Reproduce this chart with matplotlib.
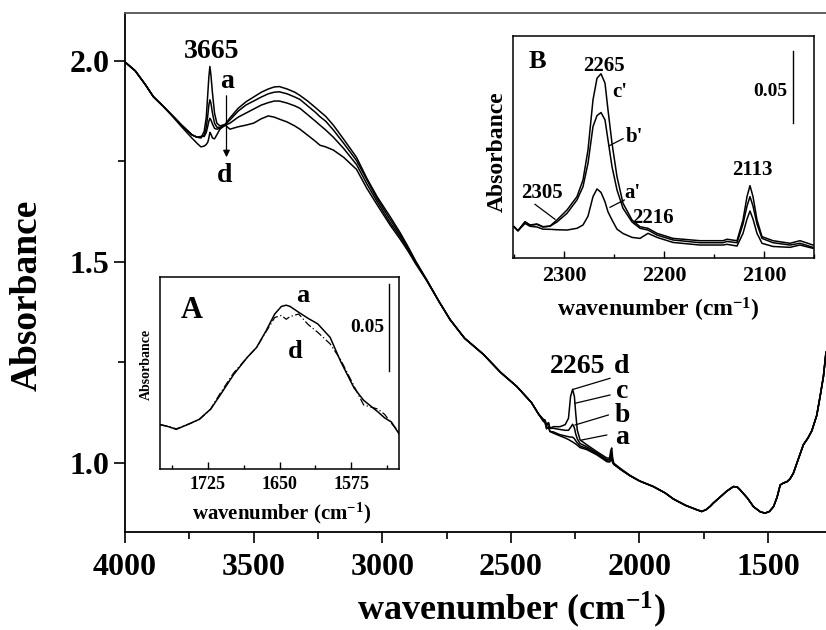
import matplotlib
matplotlib.use('Agg')
import matplotlib.pyplot as plt
from matplotlib.ticker import MultipleLocator, FormatStrFormatter, NullLocator
from matplotlib.lines import Line2D
from matplotlib.patches import FancyArrowPatch

plt.rcParams['font.family'] = ['Liberation Serif', 'DejaVu Serif']
plt.rcParams['font.weight'] = 'bold'
plt.rcParams['mathtext.default'] = 'regular'

# ---------------- main spectrum data (wavenumber, absorbance) ----------------
wn_main = [4000, 3960, 3920, 3890, 3850, 3810, 3780, 3760, 3740, 3720,
           3705, 3692, 3684, 3678, 3674, 3670, 3666, 3660, 3652, 3643,
           3631, 3611, 3592, 3560, 3530, 3500, 3470, 3443, 3420, 3400,
           3370, 3340, 3320, 3290, 3260, 3242, 3220, 3190, 3150, 3100,
           3060, 3020, 2970, 2930, 2900, 2870, 2827, 2780, 2736, 2680,
           2607, 2540, 2477, 2420, 2393, 2374, 2367, 2361, 2354, 2348,
           2335, 2309, 2289, 2276, 2268, 2260, 2253, 2248, 2242, 2231,
           2205, 2166, 2127, 2116, 2112, 2108, 2104, 2100, 2070, 2037,
           2000, 1946, 1900, 1868, 1820, 1780, 1758, 1740, 1725, 1713,
           1690, 1660, 1635, 1620, 1609, 1580, 1557, 1530, 1512, 1495,
           1479, 1465, 1453, 1440, 1427, 1415, 1402, 1385, 1363, 1345,
           1330, 1311, 1298, 1285, 1275]

a_abs = [1.997, 1.975, 1.940, 1.911, 1.886, 1.860, 1.840, 1.828, 1.816, 1.810,
         1.808, 1.825, 1.860, 1.920, 1.960, 1.986, 1.965, 1.920, 1.870, 1.845,
         1.838, 1.842, 1.858, 1.882, 1.898, 1.910, 1.922, 1.930, 1.935, 1.936,
         1.930, 1.922, 1.914, 1.900, 1.884, 1.874, 1.862, 1.840, 1.805, 1.760,
         1.708, 1.662, 1.613, 1.572, 1.538, 1.502, 1.455, 1.402, 1.356, 1.310,
         1.270, 1.225, 1.190, 1.150, 1.122, 1.104, 1.100, 1.085, 1.090, 1.078,
         1.074, 1.067, 1.062, 1.058, 1.055, 1.052, 1.049, 1.047, 1.044, 1.038,
         1.033, 1.020, 1.003, 1.002, 1.006, 1.008, 1.000, 0.996, 0.982, 0.968,
         0.955, 0.941, 0.925, 0.910, 0.894, 0.884, 0.879, 0.884, 0.892, 0.900,
         0.913, 0.930, 0.941, 0.940, 0.933, 0.912, 0.891, 0.878, 0.875, 0.879,
         0.891, 0.915, 0.945, 0.950, 0.953, 0.960, 0.974, 1.005, 1.045, 1.062,
         1.080, 1.118, 1.165, 1.215, 1.275]

b_abs = [1.997, 1.975, 1.940, 1.911, 1.886, 1.860, 1.840, 1.828, 1.816, 1.810,
         1.810, 1.815, 1.835, 1.865, 1.890, 1.903, 1.895, 1.870, 1.845, 1.835,
         1.834, 1.841, 1.853, 1.875, 1.890, 1.900, 1.910, 1.918, 1.922, 1.923,
         1.918, 1.910, 1.904, 1.888, 1.872, 1.861, 1.850, 1.828, 1.795, 1.752,
         1.704, 1.657, 1.606, 1.567, 1.535, 1.500, 1.455, 1.402, 1.356, 1.310,
         1.270, 1.225, 1.190, 1.150, 1.122, 1.104, 1.100, 1.085, 1.090, 1.078,
         1.077, 1.070, 1.067, 1.065, 1.064, 1.064, 1.060, 1.055, 1.050, 1.042,
         1.036, 1.022, 1.005, 1.004, 1.012, 1.016, 1.003, 0.997, 0.982, 0.968,
         0.955, 0.941, 0.925, 0.910, 0.894, 0.884, 0.879, 0.884, 0.892, 0.900,
         0.913, 0.930, 0.941, 0.940, 0.933, 0.912, 0.891, 0.878, 0.875, 0.879,
         0.891, 0.915, 0.945, 0.950, 0.953, 0.960, 0.974, 1.005, 1.045, 1.062,
         1.080, 1.118, 1.165, 1.215, 1.275]

c_abs = [1.997, 1.975, 1.940, 1.911, 1.886, 1.860, 1.840, 1.828, 1.816, 1.810,
         1.812, 1.812, 1.822, 1.838, 1.850, 1.857, 1.853, 1.843, 1.832, 1.830,
         1.832, 1.840, 1.845, 1.860, 1.870, 1.880, 1.890, 1.896, 1.900, 1.900,
         1.895, 1.888, 1.882, 1.866, 1.850, 1.840, 1.828, 1.810, 1.782, 1.742,
         1.694, 1.650, 1.598, 1.562, 1.532, 1.498, 1.454, 1.402, 1.356, 1.310,
         1.270, 1.225, 1.190, 1.150, 1.122, 1.108, 1.106, 1.093, 1.100, 1.086,
         1.086, 1.083, 1.081, 1.081, 1.088, 1.096, 1.087, 1.072, 1.060, 1.048,
         1.040, 1.025, 1.008, 1.008, 1.020, 1.024, 1.006, 0.998, 0.983, 0.968,
         0.955, 0.941, 0.925, 0.910, 0.894, 0.884, 0.879, 0.884, 0.892, 0.900,
         0.913, 0.930, 0.941, 0.940, 0.933, 0.912, 0.891, 0.878, 0.875, 0.879,
         0.891, 0.915, 0.945, 0.950, 0.953, 0.960, 0.974, 1.005, 1.045, 1.062,
         1.080, 1.118, 1.165, 1.215, 1.275]

d_abs = [1.997, 1.975, 1.940, 1.911, 1.886, 1.858, 1.836, 1.822, 1.808, 1.795,
         1.786, 1.788, 1.792, 1.798, 1.808, 1.822, 1.818, 1.808, 1.806, 1.816,
         1.830, 1.840, 1.830, 1.836, 1.840, 1.845, 1.856, 1.863, 1.860, 1.855,
         1.848, 1.838, 1.830, 1.815, 1.800, 1.790, 1.786, 1.778, 1.760, 1.730,
         1.683, 1.642, 1.592, 1.556, 1.527, 1.495, 1.453, 1.402, 1.356, 1.310,
         1.270, 1.225, 1.190, 1.150, 1.122, 1.108, 1.106, 1.093, 1.100, 1.086,
         1.090, 1.090, 1.095, 1.111, 1.165, 1.183, 1.165, 1.124, 1.082, 1.057,
         1.045, 1.028, 1.012, 1.012, 1.030, 1.037, 1.010, 0.999, 0.984, 0.969,
         0.955, 0.941, 0.925, 0.910, 0.894, 0.884, 0.879, 0.884, 0.892, 0.900,
         0.913, 0.930, 0.941, 0.940, 0.933, 0.912, 0.891, 0.878, 0.875, 0.879,
         0.891, 0.915, 0.945, 0.950, 0.953, 0.960, 0.974, 1.005, 1.045, 1.062,
         1.080, 1.118, 1.165, 1.215, 1.275]

main_xticks = [4000, 3500, 3000, 2500, 2000, 1500]
main_yticks = [1.0, 1.5, 2.0]

# ---------------- inset A data ----------------
wn_A = [1775, 1766, 1758, 1745, 1734, 1722, 1712, 1698, 1684, 1674,
        1664, 1655, 1648, 1643, 1639, 1630, 1620, 1610, 1597, 1586,
        1572, 1562, 1547, 1540, 1533, 1525]
a_A = [0.0252, 0.0240, 0.0225, 0.0255, 0.0282, 0.0340, 0.0420, 0.0536, 0.0632, 0.0690,
       0.0785, 0.0880, 0.0923, 0.0930, 0.0923, 0.0890, 0.0855, 0.0824, 0.0747, 0.0610,
       0.0460, 0.0390, 0.0324, 0.0290, 0.0267, 0.0200]
d_A = [0.0252, 0.0242, 0.0228, 0.0255, 0.0280, 0.0340, 0.0430, 0.0545, 0.0632, 0.0690,
       0.0780, 0.0860, 0.0872, 0.0850, 0.0865, 0.0880, 0.0820, 0.0776, 0.0710, 0.0620,
       0.0470, 0.0364, 0.0340, 0.0310, 0.0260, 0.0210]
A_xticks = [1725, 1650, 1575]

# ---------------- inset B data ----------------
wn_B = [2350, 2346, 2339, 2334, 2327, 2321, 2314, 2307, 2297, 2287,
        2281, 2276, 2271, 2267, 2263, 2259, 2256, 2252, 2247, 2241,
        2232, 2224, 2216, 2207, 2191, 2164, 2141, 2137, 2127, 2121,
        2117, 2114, 2111, 2107, 2102, 2091, 2074, 2064, 2051]
c_B = [0.0127, 0.0099, 0.0162, 0.0139, 0.0146, 0.0127, 0.0132, 0.0174, 0.0243, 0.0336,
       0.0451, 0.0660, 0.1007, 0.1157, 0.1188, 0.1123, 0.0937, 0.0706, 0.0474, 0.0290,
       0.0174, 0.0127, 0.0116, 0.0081, 0.0046, 0.0030, 0.0030, 0.0040, 0.0030, 0.0174,
       0.0336, 0.0412, 0.0336, 0.0174, 0.0058, 0.0030, 0.0012, 0.0030, 0.0000]
b_B = [0.0127, 0.0099, 0.0160, 0.0137, 0.0143, 0.0125, 0.0130, 0.0160, 0.0220, 0.0313,
       0.0405, 0.0567, 0.0822, 0.0898, 0.0919, 0.0868, 0.0729, 0.0544, 0.0382, 0.0255,
       0.0160, 0.0116, 0.0104, 0.0069, 0.0035, 0.0016, 0.0016, 0.0025, 0.0016, 0.0146,
       0.0270, 0.0336, 0.0270, 0.0146, 0.0046, 0.0016, 0.0000, 0.0012, -0.0016]
a_B = [0.0127, 0.0099, 0.0150, 0.0130, 0.0125, 0.0110, 0.0109, 0.0106, 0.0104, 0.0116,
       0.0139, 0.0200, 0.0336, 0.0389, 0.0365, 0.0300, 0.0230, 0.0174, 0.0110, 0.0080,
       0.0053, 0.0046, 0.0081, 0.0053, 0.0018, 0.0000, 0.0000, 0.0005, -0.0007, 0.0081,
       0.0180, 0.0236, 0.0180, 0.0081, 0.0012, -0.0010, -0.0016, 0.0000, -0.0023]
B_xticks = [2300, 2200, 2100]

# ---------------- figure ----------------
W, H = 826, 630
fig = plt.figure(figsize=(W / 100, H / 100), dpi=100)


def box(l, t, r, b):
    return [l / W, 1 - b / H, (r - l) / W, (b - t) / H]


def P(x, y):
    return (x / W, 1 - y / H)


def ftext(x, y, s, size, **kw):
    fig.text(*P(x, y), s, fontsize=size, fontweight='bold', ha='center', va='center', **kw)


def fline(x0, y0, x1, y1, lw=0.9):
    fig.add_artist(Line2D([x0 / W, x1 / W], [1 - y0 / H, 1 - y1 / H],
                          transform=fig.transFigure, color='black', lw=lw))


# main axes
ax = fig.add_axes(box(125, 13, 826, 532))
for arr in (a_abs, b_abs, c_abs, d_abs):
    ax.plot(wn_main, arr, color='black', lw=1.1)
ax.set_xlim(4000, 1275)
ax.set_ylim(0.828, 2.119)
ax.xaxis.set_minor_locator(MultipleLocator(250))
ax.yaxis.set_minor_locator(MultipleLocator(0.25))
ax.set_xticks(main_xticks)
ax.set_yticks(main_yticks)
ax.yaxis.set_major_formatter(FormatStrFormatter('%.1f'))
ax.tick_params(axis='both', which='major', direction='out', length=8, width=1.2, labelsize=23)
ax.tick_params(axis='both', which='minor', direction='out', length=5, width=1.2)
ax.tick_params(axis='x', which='major', pad=7)
ax.tick_params(axis='y', which='major', pad=3)
ax.spines['right'].set_visible(False)
ax.spines['top'].set_color('#555555')
for s in ('left', 'bottom', 'top'):
    ax.spines[s].set_linewidth(1.3)

fig.text(*P(27, 295), 'Absorbance', fontsize=27, fontweight='bold', rotation=90,
         ha='center', va='center')
fig.text(*P(511, 620), 'wavenumber (cm$^{-1}$)', fontsize=26, fontweight='bold',
         ha='center', va='baseline')

# main annotations
ftext(212, 52, '3665', 20)
ftext(227, 81, 'a', 20)
ftext(225, 175, 'd', 20)
fig.add_artist(FancyArrowPatch(
    P(226.5, 93), P(226.5, 160), transform=fig.transFigure,
    arrowstyle='-|>', mutation_scale=10, color='black', lw=0.9))
ftext(578, 366, '2265', 20)
ftext(622, 366, 'd', 20)
ftext(622, 391, 'c', 20)
ftext(622, 415, 'b', 20)
ftext(622, 438, 'a', 20)
fline(573.3, 389.3, 610, 378.3)
fline(575, 403.3, 610, 395)
fline(575, 425, 608.3, 415)
fline(581.7, 440, 606.7, 435)

# ---------------- inset A ----------------
axA = fig.add_axes(box(160, 277, 399, 469))
axA.plot(wn_A, a_A, color='black', lw=1.1)
axA.plot(wn_A, d_A, color='black', lw=0.9, linestyle=(0, (6, 2, 1, 2)))
axA.set_xlim(1775, 1525)
axA.set_ylim(0.0, 0.109)
axA.set_xticks(A_xticks)
axA.xaxis.set_minor_locator(MultipleLocator(37.5))
axA.yaxis.set_major_locator(NullLocator())
axA.tick_params(axis='x', which='both', direction='in', labelsize=13, pad=5)
axA.tick_params(axis='x', which='major', length=5, width=1)
axA.tick_params(axis='x', which='minor', length=3, width=1)
for s in axA.spines.values():
    s.set_linewidth(1.1)
ftext(192, 310, 'A', 22)
ftext(303, 296, 'a', 19)
ftext(295, 351, 'd', 19)
ftext(367, 328, '0.05', 14)
fline(389.3, 284, 389.3, 371, lw=1.0)
ftext(282, 513, 'wavenumber (cm$^{-1}$)', 15)
fig.text(*P(146, 364), 'Absorbance', fontsize=10, fontweight='bold', rotation=90,
         ha='center', va='center')

# ---------------- inset B ----------------
axB = fig.add_axes(box(513, 36, 814, 258))
for arr in (a_B, b_B, c_B):
    axB.plot(wn_B, arr, color='black', lw=1.1)
axB.set_xlim(2351, 2050)
axB.set_ylim(-0.009, 0.145)
axB.set_xticks(B_xticks)
axB.xaxis.set_minor_locator(MultipleLocator(50))
axB.yaxis.set_major_locator(NullLocator())
axB.tick_params(axis='x', which='both', direction='in', labelsize=16, pad=6)
axB.tick_params(axis='x', which='major', length=5, width=1)
axB.tick_params(axis='x', which='minor', length=3, width=1)
for s in axB.spines.values():
    s.set_linewidth(1.1)
ftext(537, 61, 'B', 19)
ftext(604, 66, '2265', 15)
ftext(620, 92, "c'", 15)
ftext(634, 137, "b'", 15)
fline(609.3, 145.7, 623, 138.7)
ftext(632, 193, "a'", 15)
fline(610, 207.3, 624.3, 200)
ftext(542, 193, '2305', 15)
fline(535, 204.3, 555, 219.3)
ftext(653, 218, '2216', 15)
ftext(752, 170, '2113', 15)
ftext(770, 91, '0.05', 14)
fline(793.3, 51, 793.3, 123, lw=1.0)
ftext(658, 310, 'wavenumber (cm$^{-1}$)', 17)
fig.text(*P(497, 152), 'Absorbance', fontsize=17, fontweight='bold', rotation=90,
         ha='center', va='center')

fig.savefig('out.png', dpi=100)
